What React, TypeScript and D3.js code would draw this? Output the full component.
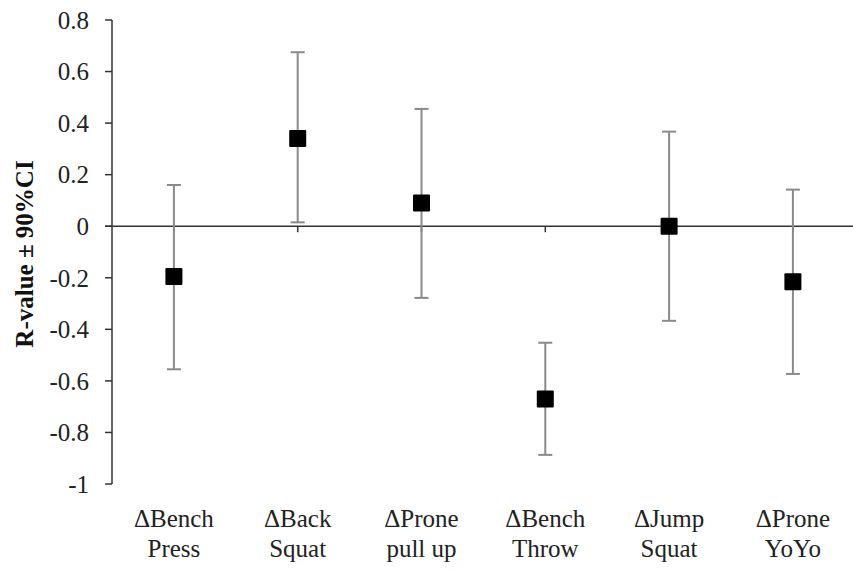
import React from "react";
import * as d3 from "d3";

const categories = [
  ["ΔBench", "Press"],
  ["ΔBack", "Squat"],
  ["ΔProne", "pull up"],
  ["ΔBench", "Throw"],
  ["ΔJump", "Squat"],
  ["ΔProne", "YoYo"],
];
const rValues = [-0.195, 0.34, 0.09, -0.67, 0.0, -0.215];
const ciUpper = [0.16, 0.675, 0.455, -0.452, 0.367, 0.142];
const ciLower = [-0.555, 0.015, -0.278, -0.887, -0.367, -0.573];
const yTicks = [0.8, 0.6, 0.4, 0.2, 0, -0.2, -0.4, -0.6, -0.8, -1];

export default function App() {
  const W = 853, H = 571;
  const axisX = 112;
  const y = d3.scaleLinear().domain([-1, 0.8]).range([484, 20]);
  const x = d3
    .scaleBand<number>()
    .domain(d3.range(categories.length))
    .range([axisX, axisX + 123.8 * 6]);
  const cx = (i: number) => (x(i) as number) + x.bandwidth() / 2;
  const font = "'Liberation Serif', 'Times New Roman', serif";
  const fmt = (v: number) => (v === 0 ? "0" : v === -1 ? "-1" : d3.format(".1f")(v).replace("−", "-"));
  const y0 = y(0);
  const fs = 25;
  return (
    <svg
      width={W}
      height={H}
      style={{ position: "absolute", left: 0, top: 0, background: "#fff" }}
      fontFamily={font}
    >
      {/* y axis */}
      <line x1={axisX} x2={axisX} y1={y(0.8)} y2={y(-1)} stroke="#333" strokeWidth={1.5} />
      {yTicks.map((t) => (
        <g key={t}>
          <line x1={axisX - 7} x2={axisX} y1={y(t)} y2={y(t)} stroke="#333" strokeWidth={1.5} />
          <text x={89} y={y(t)} dy="0.35em" textAnchor="end" fontSize={fs} fill="#222">
            {fmt(t)}
          </text>
        </g>
      ))}
      <text
        transform={`translate(33, 254) rotate(-90)`}
        textAnchor="middle"
        fontSize={25}
        fontWeight="bold"
        fill="#111"
      >
        R-value ± 90%CI
      </text>
      {/* zero line */}
      <line x1={axisX - 7} x2={W} y1={y0} y2={y0} stroke="#333" strokeWidth={1.5} />
      {categories.map((_, i) => (
        <line key={i} x1={cx(i)} x2={cx(i)} y1={y0} y2={y0 + 6} stroke="#333" strokeWidth={1.5} />
      ))}
      {/* error bars */}
      {rValues.map((v, i) => (
        <g key={i} stroke="#8a8a8a" strokeWidth={2}>
          <line x1={cx(i)} x2={cx(i)} y1={y(ciUpper[i])} y2={y(ciLower[i])} />
          <line x1={cx(i) - 7} x2={cx(i) + 7} y1={y(ciUpper[i])} y2={y(ciUpper[i])} />
          <line x1={cx(i) - 7} x2={cx(i) + 7} y1={y(ciLower[i])} y2={y(ciLower[i])} />
        </g>
      ))}
      {/* markers */}
      {rValues.map((v, i) => (
        <rect key={i} x={cx(i) - 8.5} y={y(v) - 8.5} width={17} height={17} fill="#000" rx={1} />
      ))}
      {/* x labels */}
      {categories.map((c, i) => (
        <text key={i} x={cx(i)} textAnchor="middle" fontSize={fs} fill="#222">
          <tspan x={cx(i)} y={527}>{c[0]}</tspan>
          <tspan x={cx(i)} y={557}>{c[1]}</tspan>
        </text>
      ))}
    </svg>
  );
}
